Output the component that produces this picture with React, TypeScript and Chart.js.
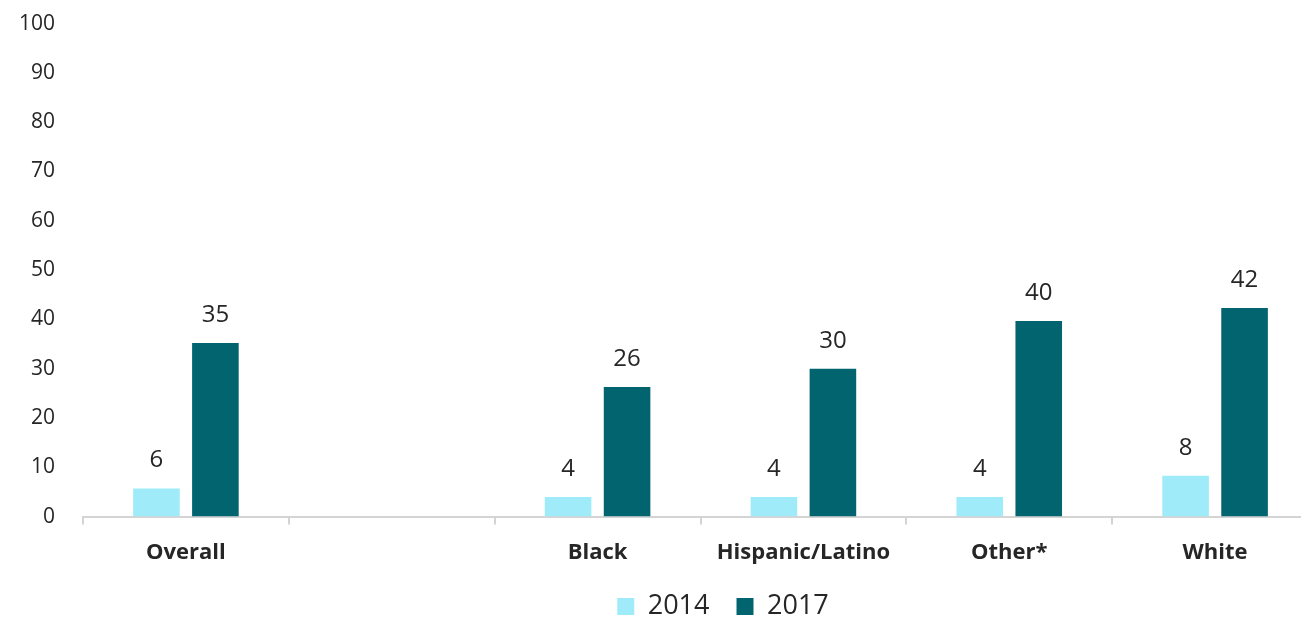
import React, { useEffect, useRef } from "react";
import { Chart, registerables } from "chart.js";

Chart.register(...registerables);

const categories = ["Overall", "", "Black", "Hispanic/Latino", "Other*", "White"];
const values2014: (number | null)[] = [5.7, null, 4.0, 4.0, 4.0, 8.3];
const values2017: (number | null)[] = [35.2, null, 26.3, 30.0, 39.7, 42.3];
const labels2014: (string | null)[] = ["6", null, "4", "4", "4", "8"];
const labels2017: (string | null)[] = ["35", null, "26", "30", "40", "42"];
const yTicks = [0, 10, 20, 30, 40, 50, 60, 70, 80, 90, 100];

const FONT = "'Open Sans', 'DejaVu Sans', sans-serif";
const TEXT = "#262626";
const LIGHT = "#A0EBFA";
const DARK = "#02646F";

const dataLabelPlugin = {
  id: "dataLabels",
  afterDatasetsDraw(chart: any) {
    const ctx = chart.ctx;
    const texts = [labels2014, labels2017];
    ctx.save();
    ctx.font = `24px ${FONT}`;
    ctx.fillStyle = TEXT;
    ctx.textAlign = "center";
    ctx.textBaseline = "alphabetic";
    chart.data.datasets.forEach((_ds: any, di: number) => {
      const meta = chart.getDatasetMeta(di);
      meta.data.forEach((bar: any, i: number) => {
        const t = texts[di][i];
        if (t == null || bar == null || isNaN(bar.y)) return;
        ctx.fillText(t, bar.x, bar.y - 21);
      });
    });
    ctx.restore();
  },
};

const legendShiftPlugin = {
  id: "legendShift",
  afterLayout(chart: any) {
    const l = chart.legend;
    if (l) {
      l.left += 64;
      l.right += 64;
      l.top -= 15;
      l.bottom -= 15;
    }
  },
};

export default function App() {
  const ref = useRef<HTMLCanvasElement | null>(null);
  useEffect(() => {
    if (!ref.current) return;
    const chart = new Chart(ref.current, {
      type: "bar",
      data: {
        labels: categories,
        datasets: [
          {
            label: "2014",
            data: values2014,
            backgroundColor: LIGHT,
            categoryPercentage: 0.573,
            barPercentage: 0.79,
          },
          {
            label: "2017",
            data: values2017,
            backgroundColor: DARK,
            categoryPercentage: 0.573,
            barPercentage: 0.79,
          },
        ],
      },
      options: {
        responsive: false,
        animation: false,
        layout: { padding: { top: 5, left: 0, right: 0, bottom: 0 } },
        plugins: {
          legend: {
            position: "bottom",
            labels: {
              boxWidth: 17,
              boxHeight: 17,
              padding: 27,
              color: TEXT,
              font: { family: FONT, size: 27 },
            },
          },
          tooltip: { enabled: false },
        },
        scales: {
          x: {
            offset: true,
            grid: {
              display: true,
              drawOnChartArea: false,
              drawTicks: true,
              tickLength: 8,
              color: "#D4D4D4",
              lineWidth: 2,
              offset: true,
            },
            border: { display: true, color: "#D4D4D4", width: 2 },
            ticks: {
              color: TEXT,
              padding: 15,
              font: { family: FONT, size: 22, weight: "bold" },
              maxRotation: 0,
              autoSkip: false,
            },
          },
          y: {
            min: 0,
            max: 100,
            grid: { display: false, drawTicks: false },
            border: { display: false },
            afterBuildTicks(scale: any) {
              scale.ticks = yTicks.map((v) => ({ value: v }));
            },
            afterFit(scale: any) {
              scale.width = 83;
            },
            ticks: {
              color: TEXT,
              padding: 28,
              font: { family: FONT, size: 21 },
            },
          },
        },
      },
      plugins: [dataLabelPlugin, legendShiftPlugin],
    });
    return () => chart.destroy();
  }, []);

  return (
    <div
      style={{
        position: "fixed",
        left: 0,
        top: 0,
        width: 1301,
        height: 619,
        overflow: "hidden",
        background: "#ffffff",
      }}
    >
      <canvas
        ref={ref}
        width={1318}
        height={662}
        style={{ display: "block", marginTop: -17 }}
      />
    </div>
  );
}
